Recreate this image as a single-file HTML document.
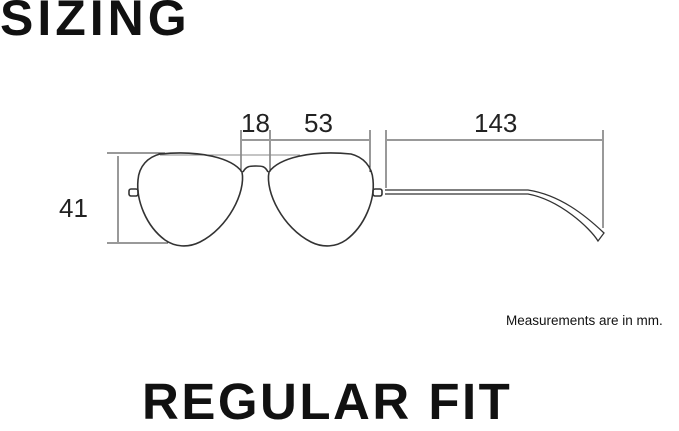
<!DOCTYPE html>
<html><head><style>
body{margin:0;width:679px;height:424px;background:#fff;overflow:hidden;position:relative;font-family:"Liberation Sans",sans-serif;}
.t{position:absolute;font-weight:bold;color:#111;white-space:nowrap;line-height:normal;}
</style></head><body>
<div class="t" style="left:0;top:-11px;font-size:50px;letter-spacing:4px;">SIZING</div>
<div class="t" style="left:142px;top:372px;font-size:51px;letter-spacing:2.5px;">REGULAR FIT</div>
<div class="t" style="left:506px;top:313px;font-size:13.5px;font-weight:normal;">Measurements are in mm.</div>
<svg width="679" height="424" style="position:absolute;left:0;top:0" font-family="Liberation Sans,sans-serif">
<g fill="#222" font-size="26">
<text x="241" y="132">18</text>
<text x="304" y="132">53</text>
<text x="474" y="132">143</text>
<text x="59" y="217">41</text>
</g>
<g stroke="#333" stroke-width="1" fill="none">
<line x1="241" y1="130" x2="241" y2="172"/><line x1="270" y1="130" x2="270" y2="172"/>
<line x1="370" y1="130" x2="370" y2="172"/><line x1="386" y1="130" x2="386" y2="188"/>
<line x1="603" y1="130" x2="603" y2="228"/>
<line x1="242" y1="140" x2="269" y2="140"/><line x1="271" y1="140" x2="369" y2="140"/>
<line x1="387" y1="140" x2="602" y2="140"/>
<line x1="118" y1="156" x2="118" y2="242"/>
<line x1="107" y1="153" x2="165" y2="153"/><line x1="107" y1="243" x2="168" y2="243"/>
<line x1="160" y1="155" x2="300" y2="155" stroke="#888"/>
</g>
<g stroke="#333" stroke-width="1.6" fill="none">
<path d="M160,154 C200,150 232,158 242,172 C246,192 228,228 200,242 C188,248 175,247 165,240 C146,226 136,200 138,180 C139,166 148,157 160,154 Z"/>
<path d="M351,154 C311,150 279,158 269,172 C265,192 283,228 311,242 C323,248 336,247 346,240 C365,226 375,200 373,180 C372,166 363,157 351,154 Z"/>
<path d="M243,172 C246,166 250,166 256,166 C262,166 265,166 268,172" />
<rect x="129" y="189" width="9" height="7" rx="2"/>
<rect x="373" y="189" width="9" height="7" rx="2"/>
<path d="M385,190 L528,190 C560,195 585,215 604,233 L598,241 C590,228 560,200 528,194 L385,194" stroke-width="1.3"/>
</g>
</svg>
</body></html>
